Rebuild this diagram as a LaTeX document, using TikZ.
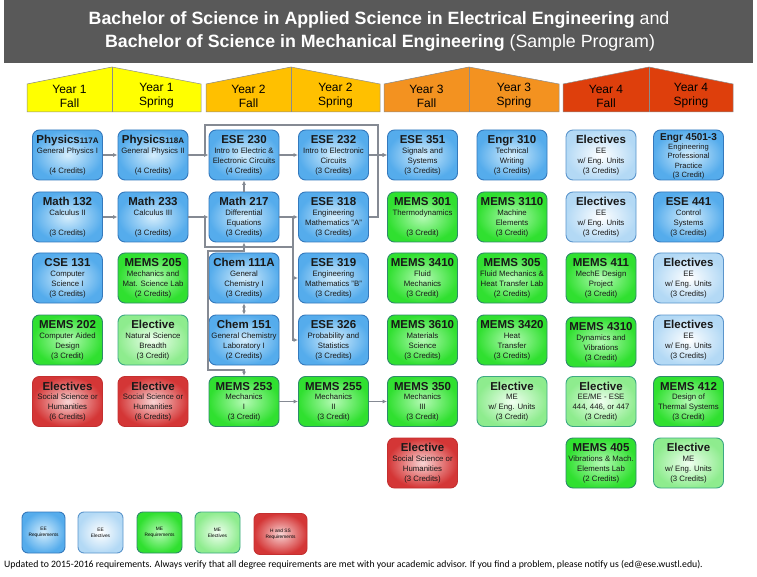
\documentclass[tikz,border=0pt]{standalone}
\usepackage{fontspec}
\setmainfont{Liberation Sans}
\newfontfamily\footfont{Carlito}
\usetikzlibrary{arrows.meta,calc}
\definecolor{eeO}{HTML}{55ACEC}
\definecolor{eeI}{HTML}{D4EDFC}
\definecolor{eeB}{HTML}{3479BD}
\definecolor{elO}{HTML}{B3D9F5}
\definecolor{elI}{HTML}{FFFFFF}
\definecolor{elB}{HTML}{5B95CC}
\definecolor{meO}{HTML}{30E030}
\definecolor{meI}{HTML}{B4FAB4}
\definecolor{meB}{HTML}{2E8A6A}
\definecolor{mlO}{HTML}{8EEC8E}
\definecolor{mlI}{HTML}{F0FFF0}
\definecolor{mlB}{HTML}{3DA884}
\definecolor{hsO}{HTML}{D43636}
\definecolor{hsI}{HTML}{F8D4D4}
\definecolor{hsB}{HTML}{C43030}
\definecolor{titlegray}{HTML}{595959}
\definecolor{yA}{HTML}{FFFF00}
\definecolor{yB}{HTML}{FFC000}
\definecolor{yC}{HTML}{F39220}
\definecolor{yD}{HTML}{DE3F0C}
\definecolor{conng}{HTML}{858A93}
\tikzset{
  box/.style={rounded corners=7pt, minimum width=70pt, minimum height=50pt, line width=0.9pt, inner sep=0pt},
  eereq/.style={box, draw=eeB, inner color=eeI, outer color=eeO},
  eeel/.style={box, draw=elB, inner color=elI, outer color=elO},
  mereq/.style={box, draw=meB, inner color=meI, outer color=meO},
  meel/.style={box, draw=mlB, inner color=mlI, outer color=mlO},
  hss/.style={box, draw=hsB, inner color=hsI, outer color=hsO},
  ttl/.style={font=\fontsize{11.5}{12}\selectfont\bfseries, anchor=base, inner sep=0pt, text=black!90},
  sub/.style={font=\fontsize{7.8}{10}\selectfont, align=center, anchor=north, inner sep=0pt, execute at begin node=\strut, text=black!90},
  lnk/.style={draw=conng, line width=1.2pt},
  conn/.style={lnk, -{Latex[length=4.5pt,width=4pt]}},
  yearlab/.style={font=\fontsize{12}{14}\selectfont, align=center, inner sep=0pt},
  pent/.style={draw=black!45, line width=0.5pt},
  leg/.style={minimum width=44pt, minimum height=41pt, rounded corners=6pt, font=\fontsize{4.8}{6}\selectfont, align=center, inner sep=0pt}
}
\newcommand\course[7]{%
  \node[#2] (#1) at (#3,#4) {};
  \node[ttl] (#1t) at ($(#1.north)+(0,14)$) {#5};
  \node[sub] (#1s) at ($(#1.north)+(0,#6)$) {#7};
}
\begin{document}
\begin{tikzpicture}[x=1pt,y=-1pt]
\useasboundingbox (0,0) rectangle (757,577);
\fill[white] (0,0) rectangle (757,577);
% title
\fill[titlegray] (4,0) rectangle (753,63);
\node[text=white, font=\fontsize{17.8}{20}\selectfont, inner sep=0pt] (title1) at (379,20)
  {\textbf{Bachelor of Science in Applied Science in Electrical Engineering} and};
\node[text=white, font=\fontsize{17.8}{20}\selectfont, inner sep=0pt] (title2) at (380,43)
  {\textbf{Bachelor of Science in Mechanical Engineering} (Sample Program)};
% year headers
\filldraw[pent, fill=yA] (27,112) -- (27,84) -- (112,67) -- (201,84) -- (201,112) -- cycle;
\draw[pent] (112,67) -- (112,112);
\filldraw[pent, fill=yB] (206,112) -- (206,84) -- (291,67) -- (380,84) -- (380,112) -- cycle;
\draw[pent] (291,67) -- (291,112);
\filldraw[pent, fill=yC] (384,112) -- (384,84) -- (469,67) -- (559,84) -- (559,112) -- cycle;
\draw[pent] (469,67) -- (469,112);
\filldraw[pent, fill=yD] (563,112) -- (563,84) -- (649,67) -- (733,84) -- (733,112) -- cycle;
\draw[pent] (649,67) -- (649,112);
\node[yearlab] (y1f) at (69.5,96) {Year 1\\Fall};
\node[yearlab] (y1s) at (156.5,96) {Year 1\\Spring};
\node[yearlab] (y2f) at (248.5,96) {Year 2\\Fall};
\node[yearlab] (y2s) at (335.5,96) {Year 2\\Spring};
\node[yearlab] (y3f) at (426.5,96) {Year 3\\Fall};
\node[yearlab] (y3s) at (514,96) {Year 3\\Spring};
\node[yearlab] (y4f) at (606,96) {Year 4\\Fall};
\node[yearlab] (y4s) at (691,96) {Year 4\\Spring};
% row 1
\course{p117}{eereq}{67.5}{155}{Physics{\fontsize{8}{9}\selectfont117A}}{18}{General Physics I\\\strut\\(4 Credits)}
\course{p118}{eereq}{153}{155}{Physics{\fontsize{8}{9}\selectfont118A}}{18}{General Physics II\\\strut\\(4 Credits)}
\course{e230}{eereq}{244}{155}{ESE 230}{18}{Intro to Electric \&\\Electronic Circuits\\(4 Credits)}
\course{e232}{eereq}{333.5}{155}{ESE 232}{18}{Intro to Electronic\\Circuits\\(3 Credits)}
\course{e351}{eereq}{422.5}{155}{ESE 351}{18}{Signals and\\Systems\\(3 Credits)}
\course{g310}{eereq}{512}{155}{Engr 310}{18}{Technical\\Writing\\(3 Credits)}
\course{el1}{eeel}{601}{155}{Electives}{18}{EE\\w/ Eng. Units\\(3 Credits)}
\node[eereq] (g450) at (688.5,155) {};
\node[ttl, font=\fontsize{10}{11}\selectfont\bfseries] (g450t) at ($(g450.north)+(0,11)$) {Engr 4501-3};
\node[sub, font=\fontsize{7.6}{9.5}\selectfont] (g450s) at ($(g450.north)+(0,14)$) {Engineering\\Professional\\Practice\\(3 Credit)};
% row 2
\course{m132}{eereq}{67.5}{217}{Math 132}{18}{Calculus II\\\strut\\(3 Credits)}
\course{m233}{eereq}{153}{217}{Math 233}{18}{Calculus III\\\strut\\(3 Credits)}
\course{m217}{eereq}{244}{217}{Math 217}{18}{Differential\\Equations\\(3 Credits)}
\course{e318}{eereq}{333.5}{217}{ESE 318}{18}{Engineering\\Mathematics "A"\\(3 Credits)}
\course{ms301}{mereq}{422.5}{217}{MEMS 301}{18}{Thermodynamics\\\strut\\(3 Credit)}
\course{ms3110}{mereq}{512}{217}{MEMS 3110}{18}{Machine\\Elements\\(3 Credit)}
\course{el2}{eeel}{601}{217}{Electives}{18}{EE\\w/ Eng. Units\\(3 Credits)}
\course{e441}{eereq}{688.5}{217}{ESE 441}{18}{Control\\Systems\\(3 Credits)}
% row 3
\course{c131}{eereq}{67.5}{278}{CSE 131}{18}{Computer\\Science I\\(3 Credits)}
\course{ms205}{mereq}{153}{278}{MEMS 205}{18}{Mechanics and\\Mat. Science Lab\\(2 Credits)}
\course{ch111}{eereq}{244}{278}{Chem 111A}{18}{General\\Chemistry I\\(3 Credits)}
\course{e319}{eereq}{333.5}{278}{ESE 319}{18}{Engineering\\Mathematics "B"\\(3 Credits)}
\course{ms3410}{mereq}{422.5}{278}{MEMS 3410}{18}{Fluid\\Mechanics\\(3 Credit)}
\course{ms305}{mereq}{512}{278}{MEMS 305}{18}{Fluid Mechanics \&\\Heat Transfer Lab\\(2 Credits)}
\course{ms411}{mereq}{601}{278}{MEMS 411}{18}{MechE Design\\Project\\(3 Credit)}
\course{el3}{eeel}{688.5}{278}{Electives}{18}{EE\\w/ Eng. Units\\(3 Credits)}
% row 4
\course{ms202}{mereq}{67.5}{340}{MEMS 202}{18}{Computer Aided\\Design\\(3 Credit)}
\course{elns}{meel}{153}{340}{Elective}{18}{Natural Science\\Breadth\\(3 Credit)}
\course{ch151}{eereq}{244}{340}{Chem 151}{18}{General Chemistry\\Laboratory I\\(2 Credits)}
\course{e326}{eereq}{333.5}{340}{ESE 326}{18}{Probability and\\Statistics\\(3 Credits)}
\course{ms3610}{mereq}{422.5}{340}{MEMS 3610}{18}{Materials\\Science\\(3 Credits)}
\course{ms3420}{mereq}{512}{340}{MEMS 3420}{18}{Heat\\Transfer\\(3 Credits)}
\course{ms4310}{mereq}{601}{342}{MEMS 4310}{18}{Dynamics and\\Vibrations\\(3 Credit)}
\course{el4}{eeel}{688.5}{340}{Electives}{18}{EE\\w/ Eng. Units\\(3 Credits)}
% row 5
\course{hs1}{hss}{67.5}{401.5}{Electives}{18}{Social Science or\\Humanities\\(6 Credits)}
\course{hs2}{hss}{153}{401.5}{Elective}{18}{Social Science or\\Humanities\\(6 Credits)}
\course{ms253}{mereq}{244}{401.5}{MEMS 253}{18}{Mechanics\\I\\(3 Credit)}
\course{ms255}{mereq}{333.5}{401.5}{MEMS 255}{18}{Mechanics\\II\\(3 Credit)}
\course{ms350}{mereq}{422.5}{401.5}{MEMS 350}{18}{Mechanics\\III\\(3 Credit)}
\course{elme1}{meel}{512}{401.5}{Elective}{18}{ME\\w/ Eng. Units\\(3 Credit)}
\course{elee}{meel}{601}{401.5}{Elective}{18}{EE/ME - ESE\\444, 446, or 447\\(3 Credit)}
\course{ms412}{mereq}{688.5}{401.5}{MEMS 412}{18}{Design of\\Thermal Systems\\(3 Credit)}
% row 6
\course{hs3}{hss}{422.5}{463}{Elective}{18}{Social Science or\\Humanities\\(3 Credits)}
\course{ms405}{mereq}{601}{463}{MEMS 405}{18}{Vibrations \& Mach.\\Elements Lab\\(2 Credits)}
\course{elme2}{meel}{688.5}{463}{Elective}{18}{ME\\w/ Eng. Units\\(3 Credits)}
% connectors
\coordinate (tl) at (205,125);
\coordinate (tr) at (378,125);
\coordinate (jB) at (205,217);
\coordinate (jR) at (293,217);
\coordinate (hm) at (244,247);
\coordinate (hr) at (293,247);
\coordinate (bk1) at (208,251);
\coordinate (bk2) at (208,370);
\draw[conn] (p117) -- (p118);
\draw[conn] (p118) -- (e230);
\draw[conn] (p118.east) -| (tl) -- (tr) |- (e351.west);
\draw[conn] (e230) -- (e232);
\draw[conn] (e232) -- (e351);
\draw[lnk] (e318.east) -| (tr);
\draw[conn] (m132) -- (m233);
\draw[conn] (m233) -- (m217);
\draw[conn] (m217) -- (e230);
\draw[conn] (m217) -- (e318);
\draw[conn] (jR) |- (e319.west);
\draw[conn] (jR) |- (e326.west);
\draw[conn] (jB) |- (hm) -- (m217.south);
\draw[lnk] (hm) -- (hr);
\draw[conn] (hm) |- (bk1) -- (bk2) -| (ms253.north);
\draw[lnk, {Latex[length=4pt,width=4pt]}-{Latex[length=4pt,width=4pt]}] (ch111) -- (ch151);
\draw[conn] (ms253) -- (ms255);
\draw[conn] (ms255) -- (ms350);
% legend
\node[leg, eereq, minimum width=43pt, minimum height=41pt, rounded corners=6pt] (lg1) at (43.5,532.5) {EE\\Requirements};
\node[leg, eeel, minimum width=45pt, minimum height=41pt, rounded corners=6pt] (lg2) at (100.5,532.5) {EE\\Electives};
\node[leg, mereq, minimum width=45pt, minimum height=41pt, rounded corners=6pt] (lg3) at (159.5,532.5) {ME\\Requirements};
\node[leg, meel, minimum width=45pt, minimum height=41pt, rounded corners=6pt] (lg4) at (217.5,532.5) {ME\\Electives};
\node[leg, hss, minimum width=53pt, minimum height=41pt, rounded corners=6pt] (lg5) at (280.5,534) {H and SS\\Requirements};
% footer
\node[anchor=west, inner sep=0pt, font=\footfont\fontsize{9.75}{11}\selectfont] (foot) at (4,565)
  {Updated to 2015-2016 requirements. Always verify that all degree requirements are met with your academic advisor. If you find a problem, please notify us (ed@ese.wustl.edu).};
\end{tikzpicture}
\end{document}
